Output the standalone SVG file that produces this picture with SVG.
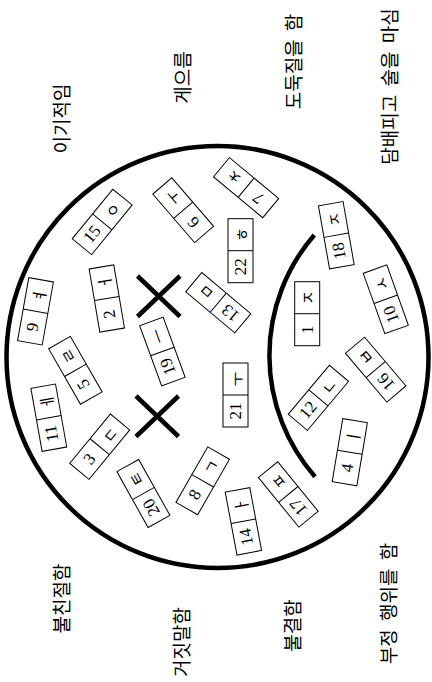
<svg xmlns="http://www.w3.org/2000/svg" width="432" height="682" viewBox="0 0 432 682">
<style>
.bg{fill:#fff}
.big{fill:none;stroke:#000;stroke-width:4.5}
.x{stroke:#000;stroke-width:4.5;stroke-linecap:butt;fill:none}
.n{font-family:"Liberation Serif",serif;font-size:17px;text-anchor:middle;dominant-baseline:central;fill:#000}
.j{font-family:"Noto Sans CJK KR",sans-serif;font-size:16px;text-anchor:middle;dominant-baseline:central;fill:#000}
.lab{font-family:"Noto Sans CJK KR",sans-serif;font-size:19px;text-anchor:middle;dominant-baseline:central;fill:#000;word-spacing:4px}
</style>
<defs>
<g id="cell"><rect x="-32" y="-12.5" width="64" height="25" fill="#fff" stroke="#000" stroke-width="1"/><line x1="0" y1="-12.5" x2="0" y2="12.5" stroke="#000" stroke-width="1"/></g>
</defs>
<rect class="bg" width="432" height="682"/>
<g id="connectors">
<circle class="big" cx="217.5" cy="357" r="211"/>
<path class="big" d="M314.3 235 A184 184 0 0 0 315 476.7"/>
<path class="x" d="M137.5 276 L180 316.5 M137.5 316.5 L180 276"/>
<path class="x" d="M136 396 L178.5 436.5 M136 436.5 L178.5 396"/>
</g>
<g id="labels">
<text class="lab" transform="translate(60,118.5) rotate(-90)">이기적임</text>
<text class="lab" transform="translate(181.5,77.5) rotate(-90)">게으름</text>
<text class="lab" transform="translate(292.5,61.5) rotate(-90)">도둑질을 함</text>
<text class="lab" transform="translate(388.5,86.5) rotate(-90)">담배피고 술을 마심</text>
<text class="lab" transform="translate(60,598.5) rotate(-90)">불친절함</text>
<text class="lab" transform="translate(180,642) rotate(-90)">거짓말함</text>
<text class="lab" transform="translate(291,625.5) rotate(-90)">불결함</text>
<text class="lab" transform="translate(387.5,603.5) rotate(-90)">부정 행위를 함</text>
</g>
<g id="b15" transform="translate(102.2,221.9) rotate(-50.7)"><use href="#cell"/><text class="n" x="-16">15</text><text class="j" x="16">ㅇ</text></g>
<g id="b6" transform="translate(183.2,210.2) rotate(-130.8)"><use href="#cell"/><text class="n" x="-16">6</text><text class="j" x="16">ㅜ</text></g>
<g id="b22" transform="translate(240.5,250.7) rotate(-90)"><use href="#cell"/><text class="n" x="-16">22</text><text class="j" x="16">ㅎ</text></g>
<g id="b13" transform="translate(218.3,302.7) rotate(-140)"><use href="#cell"/><text class="n" x="-16">13</text><text class="j" x="16">ㅁ</text></g>
<g id="b2" transform="translate(106.8,298.5) rotate(-99.6)"><use href="#cell"/><text class="n" x="-16">2</text><text class="j" x="16">ㅓ</text></g>
<g id="b19" transform="translate(162.4,351.5) rotate(-110.1)"><use href="#cell"/><text class="n" x="-16">19</text><text class="j" x="16">ㅡ</text></g>
<g id="b9" transform="translate(35.5,311.3) rotate(-79.9)"><use href="#cell"/><text class="n" x="-16">9</text><text class="j" x="16">ㅕ</text></g>
<g id="b5" transform="translate(75.4,370.3) rotate(-119.8)"><use href="#cell"/><text class="n" x="-16">5</text><text class="j" x="16">ㄹ</text></g>
<g id="b11" transform="translate(48.8,417.7) rotate(-100.1)"><use href="#cell"/><text class="n" x="-16">11</text><text class="j" x="16">ㅔ</text></g>
<g id="b3" transform="translate(99.7,446.7) rotate(-50.5)"><use href="#cell"/><text class="n" x="-16">3</text><text class="j" x="16">ㄷ</text></g>
<g id="b20" transform="translate(143.4,493.5) rotate(-119.2)"><use href="#cell"/><text class="n" x="-16">20</text><text class="j" x="16">ㅌ</text></g>
<g id="b8" transform="translate(202.7,480.8) rotate(-60.2)"><use href="#cell"/><text class="n" x="-16">8</text><text class="j" x="16">ㄱ</text></g>
<g id="b21" transform="translate(235.5,395) rotate(-90)"><use href="#cell"/><text class="n" x="-16">21</text><text class="j" x="16">ㅜ</text></g>
<g id="b14" transform="translate(243.4,521.3) rotate(-100.6)"><use href="#cell"/><text class="n" x="-16">14</text><text class="j" x="16">ㅏ</text></g>
<g id="b17" transform="translate(288.3,494.4) rotate(-129.2)"><use href="#cell"/><text class="n" x="-16">17</text><text class="j" x="16">ㅍ</text></g>
<g id="b4" transform="translate(349.8,452.2) rotate(-80.5)"><use href="#cell"/><text class="n" x="-16">4</text><text class="j" x="16">ㅣ</text></g>
<g id="b12" transform="translate(318.4,397.8) rotate(-50)"><use href="#cell"/><text class="n" x="-16">12</text><text class="j" x="16">ㄴ</text></g>
<g id="b16" transform="translate(375.7,369.6) rotate(-130.3)"><use href="#cell"/><text class="n" x="-16">16</text><text class="j" x="16">ㅂ</text></g>
<g id="b1" transform="translate(307.2,313.7) rotate(-90)"><use href="#cell"/><text class="n" x="-16">1</text><text class="j" x="16">ㅈ</text></g>
<g id="b18" transform="translate(336.3,235.2) rotate(-100)"><use href="#cell"/><text class="n" x="-16">18</text><text class="j" x="16">ㅈ</text></g>
<g id="b10" transform="translate(385.8,299.3) rotate(-109.7)"><use href="#cell"/><text class="n" x="-16">10</text><text class="j" x="16">ㅅ</text></g>
<g id="b7" transform="translate(246.1,187.7) rotate(-140.3)"><use href="#cell"/><text class="n" x="-16">7</text><text class="j" x="16">ㅊ</text></g>
</svg>
